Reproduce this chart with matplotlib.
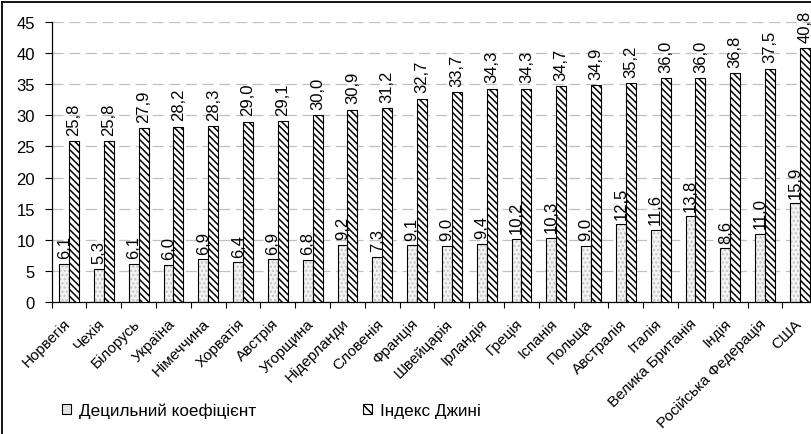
import numpy as np
import matplotlib
matplotlib.use("Agg")
import matplotlib.pyplot as plt
from matplotlib.patches import Patch
from matplotlib.lines import Line2D
from matplotlib.transforms import ScaledTranslation

plt.rcParams['font.family'] = ['Liberation Sans', 'DejaVu Sans']
plt.rcParams['lines.scale_dashes'] = False
plt.rcParams['hatch.linewidth'] = 1.1

countries = ["Норвегія", "Чехія", "Білорусь", "Україна", "Німеччина", "Хорватія",
             "Австрія", "Угорщина", "Нідерланди", "Словенія", "Франція", "Швейцарія",
             "Ірландія", "Греція", "Іспанія", "Польща", "Австралія", "Італія",
             "Велика Британія", "Індія", "Російська Федерація", "США"]
decile = [6.1, 5.3, 6.1, 6.0, 6.9, 6.4, 6.9, 6.8, 9.2, 7.3, 9.1, 9.0,
          9.4, 10.2, 10.3, 9.0, 12.5, 11.6, 13.8, 8.6, 11.0, 15.9]
gini = [25.8, 25.8, 27.9, 28.2, 28.3, 29.0, 29.1, 30.0, 30.9, 31.2, 32.7, 33.7,
        34.3, 34.3, 34.7, 34.9, 35.2, 36.0, 36.0, 36.8, 37.5, 40.8]
series_names = ["Децильний коефіцієнт", "Індекс Джині"]
y_ticks = [0, 5, 10, 15, 20, 25, 30, 35, 40, 45]

W, H = 812, 435
fig = plt.figure(figsize=(W / 100, H / 100), dpi=100)
ax = fig.add_axes([51.7 / W, (H - 303) / H, 765.6 / W, 280 / H])

x = np.arange(len(countries))
bw = 1 / 3.5

# decile bars: light grey dotted fill with black outline
ax.bar(x - bw / 2, decile, bw, color='#f4f4f4', edgecolor='#c4c4c4', hatch='....',
       linewidth=0, zorder=2)
ax.bar(x - bw / 2, decile, bw, fill=False, edgecolor='black', linewidth=0.8, zorder=3)
# Gini bars: white with dense diagonal hatching
ax.bar(x + bw / 2, gini, bw, color='white', edgecolor='black', hatch='\\\\\\\\\\',
       linewidth=0.8, zorder=3)

def fmt(v):
    return f"{v:.1f}".replace('.', ',')

for xi, v in zip(x - bw / 2, decile):
    ax.annotate(fmt(v), (xi, v), xytext=(0, 4), textcoords='offset points',
                rotation=90, ha='center', va='bottom', fontsize=12, zorder=5)
for xi, v in zip(x + bw / 2, gini):
    ax.annotate(fmt(v), (xi, v), xytext=(0, 4.5), textcoords='offset points',
                rotation=90, ha='center', va='bottom', fontsize=12, zorder=5)

ax.set_xlim(-0.5, len(countries) - 0.5)
ax.set_ylim(0, 45)
ax.set_yticks(y_ticks)
ax.set_yticklabels([str(t) for t in y_ticks], fontsize=12)
ax.tick_params(axis='y', length=5, width=0.8, pad=7, direction='out')

ax.yaxis.grid(True, color='#c0c0c0', linestyle=(0, (8, 4)), linewidth=0.9)
ax.set_axisbelow(True)

ax.set_xticks(x)
ax.set_xticks(np.arange(-0.5, len(countries), 1.0), minor=True)
ax.tick_params(axis='x', which='major', length=0, pad=10)
ax.tick_params(axis='x', which='minor', length=4, width=0.8, direction='out')
ax.set_xticklabels(countries, fontsize=11, rotation=45, ha='right', va='top',
                   rotation_mode='anchor')
shift = ScaledTranslation(-0.06, 0, fig.dpi_scale_trans)
for lab in ax.get_xticklabels():
    lab.set_transform(lab.get_transform() + shift)

for s in ['top', 'right']:
    ax.spines[s].set_visible(False)
for s in ['left', 'bottom']:
    ax.spines[s].set_linewidth(0.9)
    ax.spines[s].set_color('black')

handles = [Patch(facecolor='#e2e2e2', edgecolor='black', linewidth=0.8),
           Patch(facecolor='white', edgecolor='black', hatch='\\\\\\\\', linewidth=0.8)]
fig.legend(handles, series_names, loc='center left', bbox_to_anchor=(53 / W, 24 / H),
           ncol=2, frameon=False, fontsize=12.3, borderpad=0, handlelength=0.55,
           handleheight=0.55, handletextpad=0.5, columnspacing=6.2)

# frame lines along the left and top edges of the figure
fig.add_artist(Line2D([2.5 / W, 2.5 / W], [0, 1 - 2.5 / H], color='black', linewidth=1.3,
                      transform=fig.transFigure))
fig.add_artist(Line2D([2.5 / W, 1], [1 - 2.5 / H, 1 - 2.5 / H], color='black', linewidth=1.3,
                      transform=fig.transFigure))

fig.savefig("out.png", dpi=100, facecolor='white')
